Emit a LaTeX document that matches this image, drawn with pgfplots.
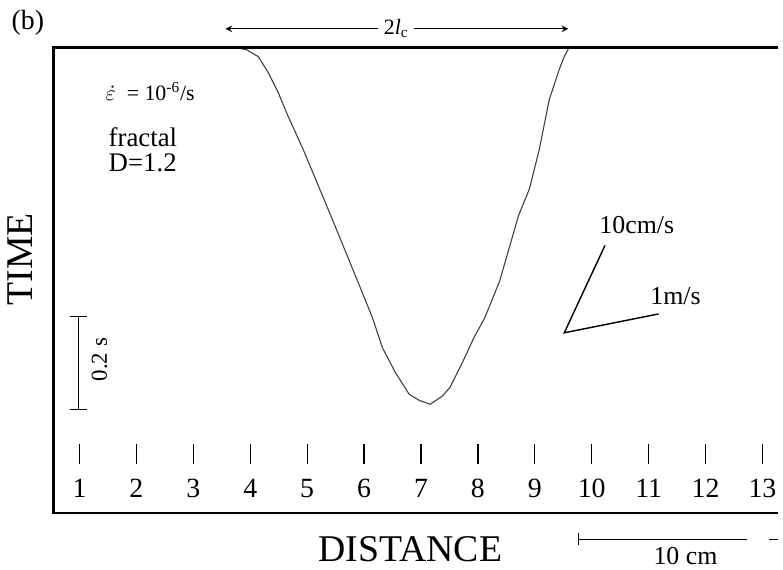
\documentclass[border=0pt]{standalone}
\usepackage{fontspec}
\setmainfont{Liberation Serif}
\usepackage{pgfplots}
\pgfplotsset{compat=1.18}

\newcommand{\fs}[1]{\fontsize{#1}{#1}\selectfont}

\begin{document}
\begin{tikzpicture}
\begin{axis}[
at={(27pt,28pt)}, anchor=south west,
scale only axis,
width=364.5pt, height=234.65pt,
xmin=0.546, xmax=13.27,
ymin=0, ymax=1.0092,
hide axis,
clip=false,
]
% front profile
\addplot[line width=0.55pt, black!75] coordinates {
(3.705,1.0092) (3.932,1.0043) (4.141,0.9892) (4.316,0.9548) (4.490,0.9118)
(4.665,0.8602) (4.927,0.7892) (5.415,0.6452) (5.887,0.5032) (6.148,0.4237)
(6.323,0.3591) (6.550,0.3054) (6.794,0.2581) (6.969,0.2452) (7.161,0.2366)
(7.370,0.2538) (7.510,0.2731) (7.719,0.3247) (7.929,0.3806) (8.120,0.4237)
(8.382,0.5032) (8.714,0.6452) (8.906,0.7032) (9.080,0.7892) (9.255,0.8968)
(9.429,0.9613) (9.516,0.9892) (9.604,1.0092)
};
% station ticks and numbers
\pgfplotsinvokeforeach{1,...,13}{
  \draw[line width=0.6pt] (axis cs:#1,0.1075) -- (axis cs:#1,0.1505);
  \node[font=\fs{14}] at (axis cs:#1,0.0538) {#1};
}
\end{axis}

\begin{scope}[x=0.5pt,y=0.5pt]
\path[use as bounding box] (0,0) rectangle (783,573);
% frame (right side cut off)
\draw[line width=1.2pt] (783,56.5) -- (54,56.5) -- (54,525.3) -- (783,525.3);

% labels
\node[font=\fs{14}] at (28,550) {(b)};
\node[font=\fs{19}, rotate=90] at (20,312) {TIME};
\node[font=\fs{19}] at (413,20) {DISTANCE};

% 2 l_c arrow
\draw[line width=0.5pt, ->, >=stealth] (381,544) -- (227,544);
\draw[line width=0.5pt, ->, >=stealth] (417,544) -- (572,544);
\node[font=\fs{11}] at (399,544) {2\textit{l}\textsubscript{c}};

% texts in panel
\node[font=\fs{11}, anchor=west, inner sep=0pt] at (106,481) {$\dot{\varepsilon}$\ \ = 10\textsuperscript{-6}/s};
\node[font=\fs{13.5}, anchor=west, inner sep=0pt] at (109,435) {fractal};
\node[font=\fs{13.5}, anchor=west, inner sep=0pt] at (109,409) {D=1.2};

% 0.2 s scale bar
\draw[line width=0.6pt] (70,161) -- (88,161) (79,161) -- (79,254) (70,254) -- (88,254);
\node[font=\fs{11.5}, rotate=90] at (100,211) {0.2 s};

% velocity indicators
\draw[line width=0.7pt] (609,326) -- (568,238) -- (663,257);
\node[font=\fs{13}] at (641,346) {10cm/s};
\node[font=\fs{13}] at (680,275) {1m/s};

% 10 cm scale bar
\draw[line width=0.5pt] (582,24) -- (582,36) (582,30) -- (752,30) (774,30) -- (783,30);
\node[font=\fs{13}, inner sep=1pt] at (690,13) {10 cm};
\end{scope}
\end{tikzpicture}
\end{document}
